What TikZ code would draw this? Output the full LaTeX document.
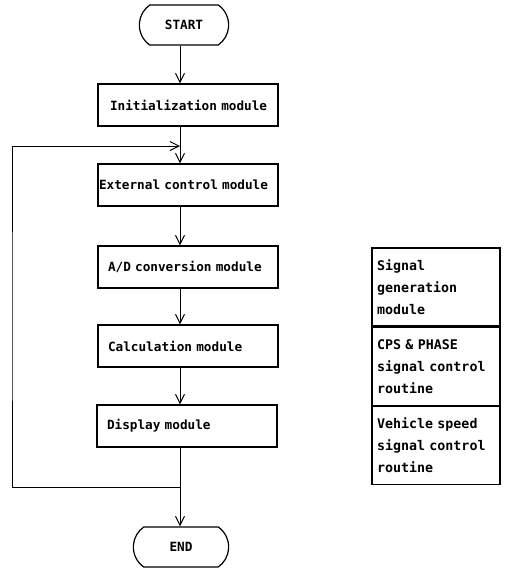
\documentclass[tikz,border=0pt]{standalone}
\usepackage{fontspec}
\setmonofont[WordSpace={1,0,0}]{DejaVu Sans Mono}
\usetikzlibrary{shapes.misc,positioning,arrows.meta}
\tikzset{
  term/.style={draw,line width=1.2pt,rounded rectangle,rounded rectangle arc length=110,
    minimum height=40pt,font=\ttfamily\bfseries\fontsize{12.7}{14}\selectfont},
  modbox/.style={draw,line width=1.2pt,minimum width=180pt,minimum height=42pt,
    text width=166pt,inner xsep=7pt,align=left,font=\ttfamily\bfseries\fontsize{12.7}{14}\selectfont},
  subbox/.style={draw,line width=1.2pt,minimum width=128pt,minimum height=78pt,
    text width=118pt,inner xsep=5pt,align=left,font=\ttfamily\bfseries\fontsize{13.3}{22}\selectfont}
}
\begin{document}
\begin{tikzpicture}[x=1pt,y=-1pt,>={Straight Barb[length=9pt,width=9pt]},line width=1pt]
      \useasboundingbox (0,0) rectangle (506,571);
      \coordinate (axis) at (180,0);
      \node[term,minimum width=96pt] (start) at (184,25) {START};
      \node[modbox] (init) at (188,105) {\hspace{5pt}Initialization module};
      \node[modbox,inner xsep=1pt,text width=178pt] (ext) at (188,185) {External control module};
      \node[modbox] (ad) at (188,267) {\hspace{3pt}A/D conversion module};
      \node[modbox] (calc) at (188,346) {\hspace{3pt}Calculation module};
      \node[modbox] (disp) at (187,426) {\hspace{3pt}Display module};
      \node[term,minimum width=102pt] (end) at (181,547) {END};
      % feedback loop
      \coordinate (join) at (180,487);
      \coordinate (back) at (180,146);
      \coordinate (left) at (12,316);
      \draw[->] (start.south -| axis) -- (init.north -| axis);
      \draw[->] (init.south -| axis) -- (ext.north -| axis);
      \draw[->] (ext.south -| axis) -- (ad.north -| axis);
      \draw[->] (ad.south -| axis) -- (calc.north -| axis);
      \draw[->] (calc.south -| axis) -- (disp.north -| axis);
      \draw[->] (disp.south -| axis) -- (end.north -| axis);
      \draw[->] (join) -| (left) |- (back);
      % signal generation blocks
      \node[subbox] (sig) at (436,287) {Signal\\generation\\module};
      \node[subbox,below=0pt of sig] (cps) {CPS \& PHASE\\signal control\\routine};
      \node[subbox,below=0pt of cps] (veh) {Vehicle speed\\signal control\\routine};
    \end{tikzpicture}
\end{document}
